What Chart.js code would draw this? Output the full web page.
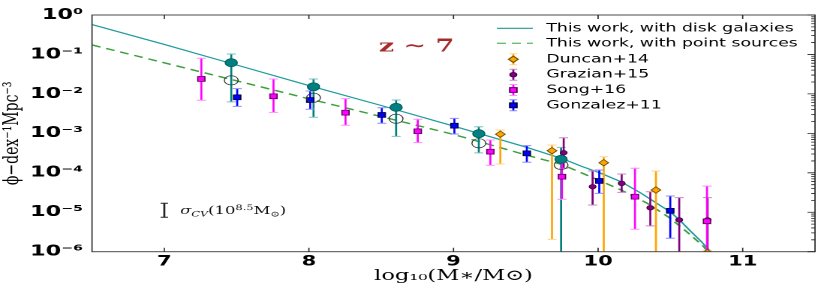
<!DOCTYPE html>
<html>
<head>
<meta charset="utf-8">
<script src="https://cdn.jsdelivr.net/npm/chart.js@4/dist/chart.umd.min.js"></script>
<style>
  html, body { margin: 0; padding: 0; background: #fff; overflow: hidden; }
  /* the original figure was squashed, so everything is drawn narrow and stretched sideways */
  #wrap { width: 553px; height: 291px; transform: scaleX(1.5009); transform-origin: 0 0; }
</style>
</head>
<body>
<div id="wrap"><canvas id="smf" width="553" height="291"></canvas></div>
<script>
const xTicks = [7, 8, 9, 10, 11];
const yTicks = [1e-6, 1e-5, 1e-4, 1e-3, 1e-2, 1e-1, 1];
const yTickLabels = ['10⁻⁶', '10⁻⁵', '10⁻⁴', '10⁻³', '10⁻²', '10⁻¹', '10⁰'];
const legendLabels = ['This work, with disk galaxies', 'This work, with point sources', 'Duncan+14', 'Grazian+15', 'Song+16', 'Gonzalez+11'];

// model curves
const diskLineX = [6.5, 7.0, 7.5, 8.0, 8.5, 9.0, 9.5, 9.75, 9.88, 10.02, 10.16, 10.3, 10.43, 10.5, 10.57, 10.64, 10.71, 10.78, 10.8];
const diskLinePhi = [0.574, 0.179, 0.054, 0.0163, 0.00508, 0.00153, 4.5e-4, 2.3e-4, 1.49e-4, 9.7e-5, 5.9e-5, 3.0e-5, 1.48e-5, 1.02e-5, 6.0e-6, 3.3e-6, 1.86e-6, 1.0e-6, 7e-7];
const pointLineX = [6.5, 7.0, 7.5, 8.0, 8.5, 9.0, 9.26, 9.5, 9.75, 10.0, 10.16, 10.34, 10.43, 10.5, 10.64, 10.73, 10.76, 10.78];
const pointLinePhi = [0.174, 0.0614, 0.0215, 0.0075, 0.00266, 9.4e-4, 5.07e-4, 2.83e-4, 1.62e-4, 6.6e-5, 3.66e-5, 1.69e-5, 1.03e-5, 7.0e-6, 2.65e-6, 1.35e-6, 1.0e-6, 7e-7];

// this work, binned points
const thisWorkX = [7.463, 8.032, 8.603, 9.175, 9.744];
const diskPhi = [0.0618, 0.0152, 0.00457, 9.8e-4, 2.2e-4];
const diskHi = [0.103, 0.0239, 0.0070, 1.47e-3, 4.4e-4];
const diskLo = [0.0063, 0.00255, 8.4e-4, 3.2e-4, 1e-8];
const pointSrcPhi = [0.0221, 0.0080, 0.00235, 5.6e-4, 1.58e-4];

// literature
const duncanX = [9.324, 9.681, 10.039, 10.4, 10.755];
const duncanPhi = [9.5e-4, 3.63e-4, 1.8e-4, 3.66e-5, 9.5e-7];
const duncanHi = [1.22e-3, 5.07e-4, 2.56e-4, 1.11e-4, 1.1e-6];
const duncanLo = [1.67e-4, 2.06e-6, 1e-8, 1e-8, 1e-8];

const grazianX = [9.762, 9.962, 10.163, 10.361, 10.561, 10.757];
const grazianPhi = [3.23e-4, 4.45e-5, 5.4e-5, 1.3e-5, 6.4e-6, 6.4e-6];
const grazianHi = [7.76e-4, 1.11e-4, 9.3e-5, 3.3e-5, 2.34e-5, 2.34e-5];
const grazianLo = [1.3e-4, 1.53e-5, 3.2e-5, 4.5e-6, 1e-8, 1e-8];

const songX = [7.256, 7.755, 8.253, 8.753, 9.255, 9.75, 10.255, 10.753];
const songPhi = [0.0239, 0.00869, 0.00334, 0.00113, 3.43e-4, 7.96e-5, 2.48e-5, 5.9e-6];
const songHi = [0.080, 0.0239, 0.00757, 0.00227, 6.8e-4, 1.8e-4, 1.3e-4, 4.6e-5];
const songLo = [0.00688, 0.00341, 0.0016, 5.8e-4, 1.55e-4, 2.13e-5, 3.7e-6, 1e-8];

const gonzalezX = [7.504, 8.009, 8.504, 9.006, 9.507, 10.008, 10.499];
const gonzalezPhi = [0.00819, 0.0070, 0.00292, 0.00156, 3.12e-4, 6.2e-5, 1.09e-5];
const gonzalezHi = [0.0136, 0.01185, 0.00447, 0.0024, 4.9e-4, 1.18e-4, 2.58e-5];
const gonzalezLo = [0.00484, 0.00407, 0.0018, 9.6e-4, 1.85e-4, 3.0e-5, 2.19e-6];

// cosmic variance bar
const cvX = [7.0];
const cvHi = [1.69e-5];
const cvLo = [7.45e-6];

function xy(xs, ys) { return xs.map((x, i) => ({ x, y: ys[i] })); }

const bars = [
  { x: thisWorkX, lo: diskLo, hi: diskHi, color: '#008080', cap: '#80c0c0' },
  { x: duncanX, lo: duncanLo, hi: duncanHi, color: '#ffa500', cap: '#ffd58a' },
  { x: grazianX, lo: grazianLo, hi: grazianHi, color: '#800080', cap: '#c58ac5' },
  { x: songX, lo: songLo, hi: songHi, color: '#ff00ff', cap: '#ff8cff' },
  { x: gonzalezX, lo: gonzalezLo, hi: gonzalezHi, color: '#0000ff', cap: '#8c8cff' },
];

const markers = [
  { pointStyle: 'rectRot', radius: 3.2, fill: '#ffa500', edge: '#7a5000' },
  { pointStyle: 'circle', radius: 2.2, fill: '#800080', edge: '#4a004a' },
  { pointStyle: 'rect', radius: 3.4, fill: '#ff00ff', edge: '#5a005a' },
  { pointStyle: 'rect', radius: 3.4, fill: '#0000ff', edge: '#00003a' },
];

function drawBar(ctx, px, top, bot, color, cap, w) {
  ctx.strokeStyle = color; ctx.lineWidth = 1.35;
  ctx.beginPath(); ctx.moveTo(px, top); ctx.lineTo(px, bot); ctx.stroke();
  ctx.strokeStyle = cap; ctx.lineWidth = 1;
  ctx.beginPath();
  ctx.moveTo(px - w, top); ctx.lineTo(px + w, top);
  ctx.moveTo(px - w, bot); ctx.lineTo(px + w, bot);
  ctx.stroke();
}

const errorBars = {
  id: 'errorBars',
  afterDatasetDraw(chart, args) {
    if (chart.data.datasets[args.index].label !== legendLabels[1]) return;
    const { ctx, chartArea: a } = chart;
    const xs = chart.scales.x, ys = chart.scales.y;
    ctx.save();
    ctx.beginPath(); ctx.rect(a.left, a.top, a.right - a.left, a.bottom - a.top); ctx.clip();
    bars.forEach((s) => {
      s.x.forEach((x, i) => {
        drawBar(ctx, xs.getPixelForValue(x), ys.getPixelForValue(s.hi[i]), ys.getPixelForValue(s.lo[i]), s.color, s.cap, 3);
      });
    });
    ctx.restore();
  },
};

function drawRuns(ctx, x, y, runs) {
  runs.forEach((r) => {
    ctx.font = r.f;
    ctx.fillText(r.t, x, y + r.dy);
    x += ctx.measureText(r.t).width;
  });
}

const decorations = {
  id: 'decorations',
  afterDraw(chart) {
    const { ctx, chartArea: a } = chart;
    const xs = chart.scales.x, ys = chart.scales.y;
    ctx.save();
    // frame
    ctx.strokeStyle = '#4a4a4a'; ctx.lineWidth = 1;
    ctx.strokeRect(a.left, a.top, a.right - a.left, a.bottom - a.top);
    ctx.strokeStyle = '#222'; ctx.lineWidth = 0.8;
    ctx.beginPath();
    xTicks.forEach((v) => {
      const px = xs.getPixelForValue(v);
      ctx.moveTo(px, a.bottom); ctx.lineTo(px, a.bottom - 4);
      ctx.moveTo(px, a.top); ctx.lineTo(px, a.top + 4);
    });
    for (let d = -6; d <= 0; d++) {
      const py = ys.getPixelForValue(Math.pow(10, d));
      ctx.moveTo(a.right, py); ctx.lineTo(a.right - 5, py);
      if (d === 0) continue;
      for (let m = 2; m <= 9; m++) {
        const q = ys.getPixelForValue(m * Math.pow(10, d));
        ctx.moveTo(a.right, q); ctx.lineTo(a.right - 2.5, q);
      }
    }
    ctx.stroke();

    // z ~ 7
    ctx.fillStyle = '#a52a2a';
    ctx.font = 'bold 18px "DejaVu Serif"';
    ctx.textAlign = 'center'; ctx.textBaseline = 'middle';
    ctx.fillText('z ∼ 7', 277.5, 47);

    // cosmic variance
    const cx = xs.getPixelForValue(cvX[0]);
    drawBar(ctx, cx, ys.getPixelForValue(cvHi[0]), ys.getPixelForValue(cvLo[0]), '#222', '#222', 2.5);
    ctx.fillStyle = '#111'; ctx.textAlign = 'left'; ctx.textBaseline = 'alphabetic';
    drawRuns(ctx, cx + 10.5, 214, [
      { t: 'σ', f: 'italic 11px "DejaVu Serif"', dy: 0 },
      { t: 'CV', f: 'italic 7.5px "DejaVu Serif"', dy: 2.5 },
      { t: '(10', f: '11px "DejaVu Serif"', dy: 0 },
      { t: '8.5', f: '7.5px "DejaVu Serif"', dy: -4 },
      { t: 'M', f: '11px "DejaVu Serif"', dy: 0 },
      { t: '⊙', f: '7.5px "DejaVu Serif"', dy: 2.5 },
      { t: ')', f: '11px "DejaVu Serif"', dy: 0 },
    ]);

    // legend
    const lx0 = 331, lx1 = 355, mx = 342, tx = 364;
    const rows = [28.3, 43.3, 59.3, 74.7, 90, 105.3];
    ctx.lineWidth = 1.2; ctx.strokeStyle = '#1f9c9c';
    ctx.beginPath(); ctx.moveTo(lx0, rows[0]); ctx.lineTo(lx1, rows[0]); ctx.stroke();
    ctx.setLineDash([6, 4]); ctx.strokeStyle = '#6cc06c'; ctx.lineWidth = 1.4;
    ctx.beginPath(); ctx.moveTo(lx0, rows[1]); ctx.lineTo(lx1, rows[1]); ctx.stroke();
    ctx.setLineDash([]);
    markers.forEach((m, i) => {
      const y = rows[i + 2], b = bars[i + 1];
      drawBar(ctx, mx, y - 5.5, y + 5.5, b.color, b.cap, 2.6);
      ctx.fillStyle = m.fill; ctx.strokeStyle = m.edge;
      Chart.helpers.drawPoint(ctx, { pointStyle: m.pointStyle, radius: m.radius, rotation: 0, borderWidth: 0.8 }, mx, y);
    });
    ctx.fillStyle = '#000'; ctx.font = '11.5px "DejaVu Sans"';
    ctx.textAlign = 'left'; ctx.textBaseline = 'middle';
    legendLabels.forEach((t, i) => ctx.fillText(t, tx, rows[i]));
    ctx.restore();
  },
};

const markerSets = [duncanPhi, grazianPhi, songPhi, gonzalezPhi];
const markerXs = [duncanX, grazianX, songX, gonzalezX];

const datasets = [
  { label: legendLabels[0], data: xy(diskLineX, diskLinePhi), showLine: true, borderColor: '#1f9c9c', borderWidth: 1.2, pointRadius: 0, order: 11 },
  { label: legendLabels[1], data: xy(pointLineX, pointLinePhi), showLine: true, borderColor: '#3c9f3c', borderWidth: 1.4, borderDash: [6, 4], pointRadius: 0, order: 10 },
  ...markers.map((m, i) => ({
    label: legendLabels[i + 2], data: xy(markerXs[i], markerSets[i]), pointStyle: m.pointStyle, pointRadius: m.radius,
    backgroundColor: m.fill, borderColor: m.edge, borderWidth: 0.8, order: 6 - i, clip: 0,
  })),
  { label: 'point sources bins', data: xy(thisWorkX, pointSrcPhi), pointStyle: 'circle', pointRadius: 4.6, backgroundColor: 'rgba(0,0,0,0)', borderColor: '#333', borderWidth: 0.7, order: 2 },
  { label: 'disk bins', data: xy(thisWorkX, diskPhi), pointStyle: 'circle', pointRadius: 4, backgroundColor: '#008080', borderColor: '#005c5c', borderWidth: 0.8, order: 1 },
];

new Chart(document.getElementById('smf'), {
  type: 'scatter',
  data: { datasets },
  options: {
    responsive: false,
    animation: false,
    devicePixelRatio: 2,
    layout: { padding: { top: 15, right: 10, left: 0, bottom: 0 } },
    plugins: { legend: { display: false }, tooltip: { enabled: false } },
    scales: {
      x: {
        type: 'linear', min: 6.5, max: 11.5,
        afterBuildTicks: (axis) => { axis.ticks = xTicks.map((v) => ({ value: v })); },
        afterFit: (axis) => { axis.height = 39.3; },
        grid: { display: false, drawTicks: false },
        border: { display: false },
        ticks: { padding: 2, color: '#000', font: { family: 'DejaVu Sans', weight: 'bold', size: 14 }, callback: (v) => String(v) },
        title: { display: true, text: 'log₁₀(M∗/M⊙)', color: '#000', padding: { top: 0, bottom: 6 }, font: { family: 'DejaVu Serif', size: 15 } },
      },
      y: {
        type: 'logarithmic', min: 1e-6, max: 1,
        afterBuildTicks: (axis) => { axis.ticks = yTicks.map((v) => ({ value: v })); },
        afterFit: (axis) => { axis.width = 61.3; },
        grid: { display: false, drawTicks: false },
        border: { display: false },
        ticks: { padding: 6, color: '#000', font: { family: 'DejaVu Sans', weight: 'bold', size: 15 }, callback: (v) => yTickLabels[yTicks.indexOf(v)] },
        title: { display: true, text: 'ϕ−dex⁻¹Mpc⁻³', color: '#000', padding: { top: 0, bottom: 0 }, font: { family: 'DejaVu Serif', size: 14 } },
      },
    },
  },
  plugins: [errorBars, decorations],
});
</script>
</body>
</html>
